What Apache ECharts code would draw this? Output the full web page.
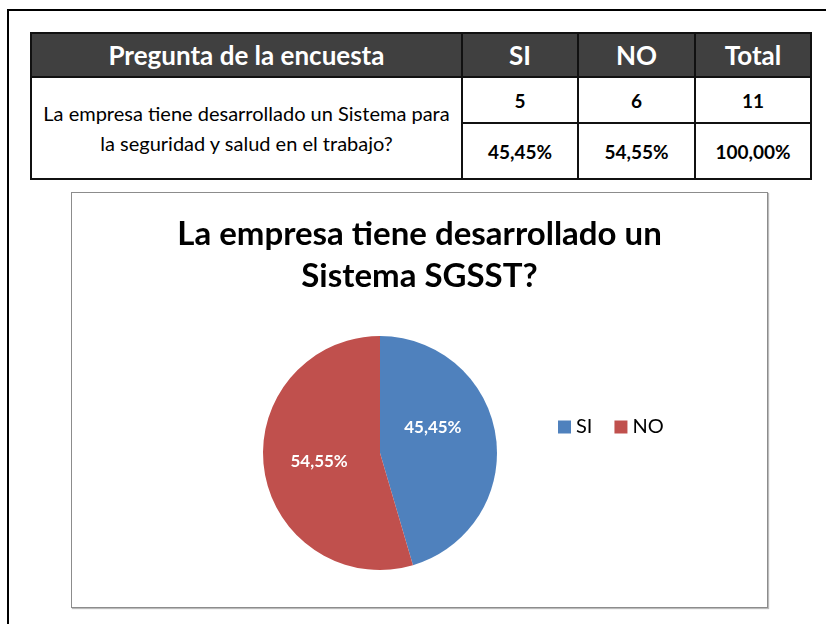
<!DOCTYPE html>
<html>
<head>
<meta charset="utf-8">
<script src="https://cdn.jsdelivr.net/npm/echarts@6/dist/echarts.min.js"></script>
<style>
  body { margin: 0; background: #fff; font-family: Lato, "Open Sans", sans-serif; }
  .frame { position: absolute; left: 7px; top: 9px; width: 830px; height: 630px; border-left: 2px solid #000; border-top: 2px solid #000; }
  table.survey { position: absolute; left: 30px; top: 32px; width: 780px; border-collapse: collapse; table-layout: fixed; }
  table.survey td, table.survey th { border: 2px solid #111; text-align: center; padding: 0; color: #000; }
  table.survey th { background: #404040; color: #fff; font-size: 26px; font-weight: bold; height: 42px; line-height: 42px; }
  table.survey td.q { font-size: 20px; line-height: 30px; white-space: nowrap; }
  table.survey td.n { font-size: 19px; font-weight: bold; }
  .chart-box { position: absolute; left: 71px; top: 192px; width: 697px; height: 416px; box-sizing: border-box; border: 1px solid #8c8c8c; box-shadow: 1px 1px 1px #bbb; }
</style>
</head>
<body>
<div class="frame"></div>
<table class="survey">
  <colgroup><col style="width:431px"><col style="width:116px"><col style="width:117px"><col style="width:116px"></colgroup>
  <tr><th>Pregunta de la encuesta</th><th id="h1"></th><th id="h2"></th><th>Total</th></tr>
  <tr style="height:46px"><td class="q" rowspan="2">La empresa tiene desarrollado un Sistema para<br>la seguridad y salud en el trabajo?</td>
    <td class="n" id="c1"></td><td class="n" id="c2"></td><td class="n" id="ct"></td></tr>
  <tr style="height:56px"><td class="n" id="p1"></td><td class="n" id="p2"></td><td class="n" id="pt"></td></tr>
</table>
<div class="chart-box" id="pie_ref"></div>
<script>
// respuestas de la encuesta
const categories = ["SI", "NO"];
const counts = [5, 6];
const colors = ["#4F81BD", "#C0504D"];

const total = counts.reduce((a, b) => a + b, 0);
const fmtPct = (v) => v.toFixed(2).replace(".", ",") + "%";

// llenar la tabla
document.getElementById("h1").textContent = categories[0];
document.getElementById("h2").textContent = categories[1];
document.getElementById("c1").textContent = counts[0];
document.getElementById("c2").textContent = counts[1];
document.getElementById("ct").textContent = total;
document.getElementById("p1").textContent = fmtPct((counts[0] / total) * 100);
document.getElementById("p2").textContent = fmtPct((counts[1] / total) * 100);
document.getElementById("pt").textContent = fmtPct(100);

const chartInstance = echarts.init(document.getElementById("pie_ref"));
const option = {
  color: colors,
  title: {
    text: "La empresa tiene desarrollado un\nSistema SGSST?",
    left: "center",
    top: 20,
    padding: 0,
    textStyle: { fontFamily: "Lato", fontSize: 33, fontWeight: "bold", color: "#000", lineHeight: 42 },
  },
  legend: {
    left: 481,
    top: 219,
    icon: "rect",
    itemWidth: 13,
    itemHeight: 13,
    itemGap: 22,
    textStyle: { fontFamily: "Lato", fontSize: 20, color: "#000" },
    data: categories,
  },
  series: [
    {
      type: "pie",
      center: [308, 260],
      radius: 117,
      startAngle: 90,
      clockwise: true,
      animation: false,
      label: {
        show: true,
        position: "inside",
        formatter: (p) => fmtPct(p.percent),
        color: "#fff",
        fontFamily: "Lato",
        fontSize: 17,
        fontWeight: "bold",
      },
      labelLine: { show: false },
      itemStyle: { borderWidth: 0 },
      data: categories.map((name, i) => ({
        name: name,
        value: counts[i],
        label: i === 0 ? { offset: [-8, -17] } : {},
      })),
    },
  ],
};
chartInstance.setOption(option);
</script>
</body>
</html>
